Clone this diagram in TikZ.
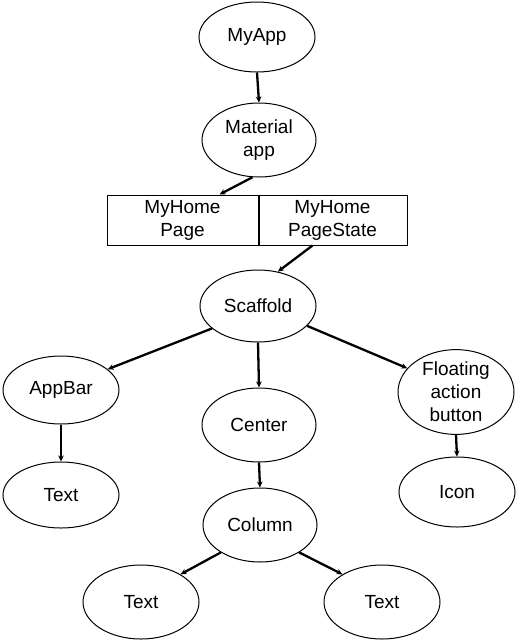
\documentclass[tikz,border=0pt]{standalone}
\usepackage{fontspec}
\setmainfont{Liberation Sans}
\usetikzlibrary{shapes.geometric,arrows.meta,calc}
\begin{document}
\begin{tikzpicture}[x=1pt,y=1pt,
  every node/.style={font=\fontsize{19}{23}\selectfont, align=center, inner sep=0pt},
  oval/.style={ellipse, draw, line width=1pt, minimum width=116pt, minimum height=70pt},
  box/.style={rectangle, draw, line width=1pt, minimum height=50pt},
  conn/.style={line width=2.3pt, -{Stealth[length=6pt,width=5.5pt]}}]
\useasboundingbox (0,0) rectangle (518,-641);
\node[oval, minimum height=70pt] (myapp) at (257,-37) {MyApp};
\node[oval, minimum width=114pt, minimum height=74pt] (mat) at (259,-140) {Material\\app};
\node[box, minimum width=151pt] (hp) at (182.5,-220) {MyHome\\Page};
\node[box, minimum width=149pt] (hps) at (332.5,-220) {MyHome\\PageState};
\draw[line width=2pt] (hp.north east) -- (hp.south east);
\node[oval, minimum height=72pt] (scaf) at (258,-306) {Scaffold};
\node[oval, minimum height=68pt] (appbar) at (61,-390) {AppBar};
\node[oval, minimum width=114pt, minimum height=74pt] (center) at (259,-425) {Center};
\node[oval, minimum height=74pt] (fab) at (456,-392) {Floating\\action\\button};
\node[oval, minimum height=66pt] (text1) at (61,-495) {Text};
\node[oval, minimum height=70pt] (icon) at (457,-492) {Icon};
\node[oval, minimum width=114pt, minimum height=74pt] (column) at (260,-525) {Column};
\node[oval, minimum height=74pt] (text2) at (141,-602) {Text};
\node[oval, minimum height=74pt] (text3) at (382,-602) {Text};
\draw[conn] (myapp.south) -- (mat.north);
\draw[conn] (mat.-100) -- ($(hp.north)+(37,0)$);
\draw[conn] ($(hps.south)+(-20,0)$) -- (scaf.60);
\draw[conn] (scaf.206) -- (appbar.24);
\draw[conn] (scaf.south) -- (center.north);
\draw[conn] (scaf.-22) -- (fab.154);
\draw[conn] (appbar.south) -- (text1.north);
\draw[conn] (fab.south) -- (icon.north);
\draw[conn] (center.south) -- (column.north);
\draw[conn] (column.215) -- (text2.35);
\draw[conn] (column.-35) -- (text3.145);
\end{tikzpicture}
\end{document}
